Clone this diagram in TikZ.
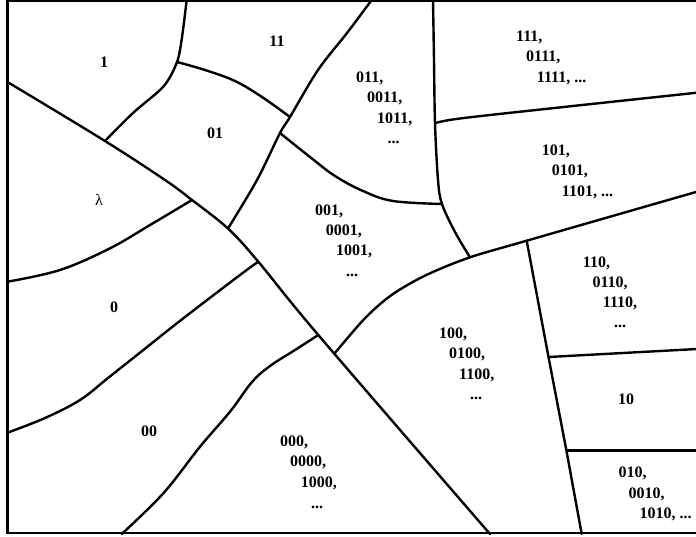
\documentclass[tikz,border=0pt]{standalone}
\usepackage{fontspec}
\setmainfont{Liberation Serif}[BoldFont={Liberation Serif Bold}]
\begin{document}
\begin{tikzpicture}[x=1pt,y=-1pt,
  edge/.style={line width=2.4pt, line join=round, line cap=round},
  frame/.style={line width=2.4pt, line join=miter},
  lab/.style={font=\fontsize{16}{18}\selectfont\bfseries, inner sep=0pt, anchor=base west},
  one/.style={font=\fontsize{16}{18}\selectfont\bfseries, inner sep=0pt, anchor=center},
  plain/.style={font=\fontsize{16}{18}\selectfont, inner sep=0pt, anchor=center}]
\useasboundingbox (0,0) rectangle (696,536);
% frame (open on the right)
\draw[frame] (697,0.9) -- (7.5,0.9) -- (7.5,533) -- (697,533);
% junctions
\coordinate (J1) at (105,141);
\coordinate (J2) at (177,62);
\coordinate (J3) at (290,117);
\coordinate (J4) at (280,133);
\coordinate (J5) at (442,204);
\coordinate (J6) at (435,123.3);
\coordinate (J7) at (470,257.3);
\coordinate (J8) at (526.7,240.7);
\coordinate (J9) at (334.5,353.5);
\coordinate (J10) at (192,200);
\coordinate (J11) at (228,228.5);
\coordinate (J12) at (258.3,261.7);
\coordinate (J13) at (318.3,335);
\coordinate (J14) at (548.5,357);
\coordinate (J15) at (566.4,450.5);
% main diagonal
\draw[edge] plot[smooth, tension=0.55] coordinates {(7.5,82) (J1) (165,180) (J10) (J11) (J12) (J13) (490,534)};
% curve 1 | 11/01
\draw[edge] plot[smooth, tension=0.6] coordinates {(186.7,0) (183,30) (180,50) (J2) (170,77) (160,90) (133,113) (J1)};
% 11 | 01
\draw[edge] plot[smooth, tension=0.6] coordinates {(J2) (205,70) (235,81) (262,97) (J3)};
% long line from top
\draw[edge] plot[smooth, tension=0.55] coordinates {(371.7,0) (347,33) (318,70) (J3) (J4) (257,180) (J11)};
% 01/001 | 011
\draw[edge] plot[smooth, tension=0.6] coordinates {(J4) (310,157) (335,176) (363,191) (393,201) (J5)};
% vertical line
\draw[edge] plot[smooth, tension=0.55] coordinates {(433,0) (434,60) (J6) (438,180) (J5) (455,232) (J7)};
% 111 | 101
\draw[edge] plot[smooth, tension=0.6] coordinates {(J6) (460,118.5) (560,107.4) (697,92.7)};
% 101 | 110/100 curve
\draw[edge] plot[smooth, tension=0.55] coordinates {(697,191.7) (J8) (J7) (430,273.3) (404,287) (385,300) (363.3,320) (J9)};
% 100 | 110/10/010
\draw[edge] (J8) -- (J14) -- (J15) -- (581.7,534);
\draw[edge] (J14) -- (697,349);
\draw[edge] (J15) -- (697,450.5);
% lambda | 0
\draw[edge] plot[smooth, tension=0.6] coordinates {(7.5,281.7) (60,270) (110,248.3) (150,225) (J10)};
% 0 | 00
\draw[edge] plot[smooth, tension=0.6] coordinates {(7.5,432.7) (45,418) (80,400) (108,378) (143.3,350) (183.3,318.3) (240,275) (J12)};
% 00 | 000
\draw[edge] plot[smooth, tension=0.6] coordinates {(121.7,534) (163.3,493.3) (200,446.7) (230,411.7) (252,382) (270,366) (295,350) (J13)};
% single labels
\node[one] (l1) at (104,62) {1};
\node[one] (l11) at (277,41) {11};
\node[one] (l01) at (215,133) {01};
\node[plain] (llam) at (99,200) {λ};
\node[one] (l0) at (114,307) {0};
\node[one] (l00) at (149,431) {00};
\node[one] (l10) at (626,399) {10};
% 011 group
\node[lab] (a1) at (356,82) {011,};
\node[lab] (a2) at (367,102.7) {0011,};
\node[lab] (a3) at (377,123) {1011,};
\node[lab] (a4) at (387.3,143.5) {...};
% 111 group
\node[lab] (b1) at (516,41) {111,};
\node[lab] (b2) at (526,61.7) {0111,};
\node[lab] (b3) at (536.7,82) {1111, ...};
% 101 group
\node[lab] (c1) at (541.7,155) {101,};
\node[lab] (c2) at (551.7,175.7) {0101,};
\node[lab] (c3) at (561.7,196) {1101, ...};
% 001 group
\node[lab] (d1) at (315,215) {001,};
\node[lab] (d2) at (325.7,235.3) {0001,};
\node[lab] (d3) at (336,255.7) {1001,};
\node[lab] (d4) at (346,276) {...};
% 110 group
\node[lab] (e1) at (582.7,267) {110,};
\node[lab] (e2) at (592.3,287.3) {0110,};
\node[lab] (e3) at (602.7,307.3) {1110,};
\node[lab] (e4) at (614,327.7) {...};
% 100 group
\node[lab] (f1) at (439,338) {100,};
\node[lab] (f2) at (449,358.5) {0100,};
\node[lab] (f3) at (459,379) {1100,};
\node[lab] (f4) at (470,399.5) {...};
% 000 group
\node[lab] (g1) at (280,446) {000,};
\node[lab] (g2) at (290,466.7) {0000,};
\node[lab] (g3) at (300.7,487.3) {1000,};
\node[lab] (g4) at (311,508) {...};
% 010 group
\node[lab] (h1) at (618.3,477.7) {010,};
\node[lab] (h2) at (628.3,498.3) {0010,};
\node[lab] (h3) at (639.3,518.3) {1010, ...};
\end{tikzpicture}
\end{document}
